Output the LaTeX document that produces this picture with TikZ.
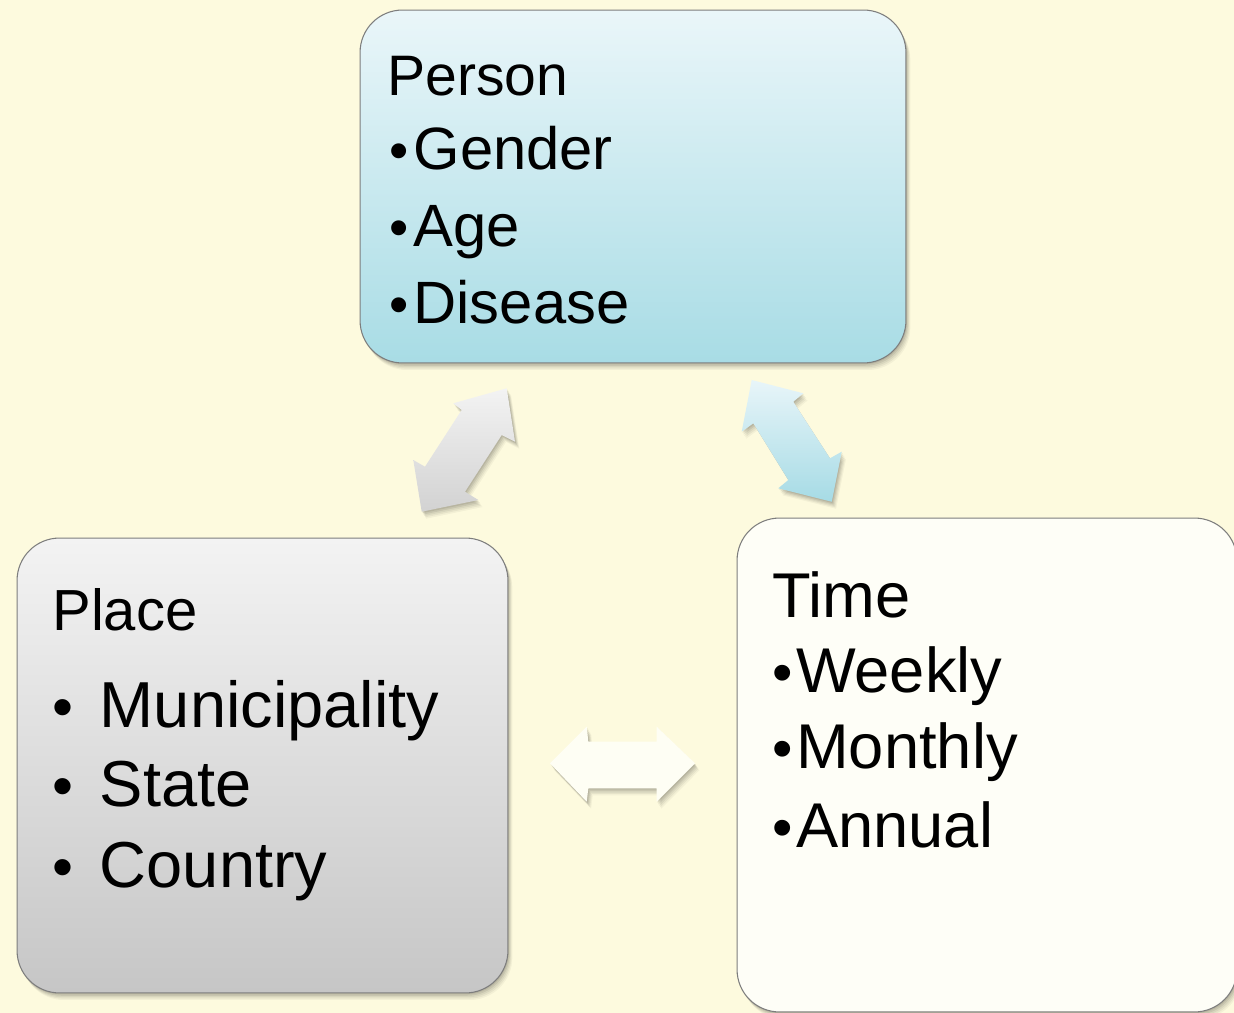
\documentclass[tikz,border=0pt]{standalone}
\usepackage{fontspec}
\setmainfont{Liberation Sans}
\usetikzlibrary{shadows}
\definecolor{bgcream}{RGB}{253,250,222}
\definecolor{cardline}{RGB}{125,125,125}
\definecolor{personTop}{RGB}{234,246,249}
\definecolor{personBot}{RGB}{168,220,229}
\definecolor{placeTop}{RGB}{243,243,243}
\definecolor{placeBot}{RGB}{198,198,198}
\definecolor{timeFill}{RGB}{254,254,247}
\definecolor{grayTop}{RGB}{243,243,243}
\definecolor{grayBot}{RGB}{210,210,210}
\definecolor{blueTop}{RGB}{232,245,249}
\definecolor{blueBot}{RGB}{166,219,229}
\definecolor{creamArrow}{RGB}{254,254,244}
% a slightly smaller list bullet
\newcommand\smallbullet{\scalebox{0.92}{•}}
\begin{document}
\begin{tikzpicture}[x=0.02cm,y=-0.02cm,
  softshadow/.style={
    drop shadow={shadow xshift=0.5pt,shadow yshift=-0.8pt,opacity=0.08,fill=black},
    drop shadow={shadow xshift=1.0pt,shadow yshift=-1.6pt,opacity=0.07,fill=black},
    drop shadow={shadow xshift=1.5pt,shadow yshift=-2.4pt,opacity=0.06,fill=black},
    drop shadow={shadow xshift=2.0pt,shadow yshift=-3.2pt,opacity=0.05,fill=black},
    drop shadow={shadow xshift=2.5pt,shadow yshift=-4.0pt,opacity=0.04,fill=black}},
  card/.style={draw=cardline, line width=0.6pt, rounded corners=0.85cm,
    inner sep=0pt, softshadow},
  lbl/.style={anchor=base west, inner sep=0pt, text=black},
]
\useasboundingbox (0,0) rectangle (1234,1013);
\clip (0,0) rectangle (1234,1013);
\fill[bgcream] (0,0) rectangle (1234,1013);

% three cards
\node[card, top color=personTop, bottom color=personBot,
      minimum width=10.92cm, minimum height=7.06cm] (person) at (633,186.5) {};
\node[card, top color=placeTop, bottom color=placeBot,
      minimum width=9.82cm, minimum height=9.1cm] (place) at (262.5,765.5) {};
\node[card, fill=timeFill,
      minimum width=10cm, minimum height=9.88cm] (time) at (987,765) {};

% block arrows between the cards
\shade[top color=grayTop, bottom color=grayBot, softshadow]
  (453.3,403.3) -- (506.7,388.3) -- (515,441.7) -- (501.7,435) -- (465,491.7)
  -- (478.3,500) -- (421.7,511.7) -- (413.3,460) -- (425,466.7) -- (461.7,410) -- cycle;
\shade[top color=blueTop, bottom color=blueBot, softshadow]
  (751.7,380) -- (803.3,393.3) -- (793.3,401.7) -- (830,458.3) -- (841.7,451.7)
  -- (831.7,501.7) -- (778.3,488.3) -- (788.3,480) -- (753.3,423.3) -- (741.7,431.7) -- cycle;
\fill[creamArrow, softshadow]
  (550,763.3) -- (586.7,726.7) -- (588.3,741.7) -- (656.7,741.7) -- (656.7,726.7)
  -- (695,763.3) -- (656.7,801.7) -- (656.7,788.3) -- (588.3,788.3) -- (586.7,801.7) -- cycle;

% Person
\node[lbl, font=\fontsize{32.5pt}{38pt}\selectfont] (pT) at (387,96) {Person};
\node[lbl, font=\fontsize{34pt}{40pt}\selectfont] (p1) at (389,170) {\smallbullet\hspace{0.1cm}Gender};
\node[lbl, font=\fontsize{34pt}{40pt}\selectfont] (p2) at (389,247) {\smallbullet\hspace{0.1cm}Age};
\node[lbl, font=\fontsize{34pt}{40pt}\selectfont] (p3) at (389,324) {\smallbullet\hspace{0.1cm}Disease};

% Place
\node[lbl, font=\fontsize{33pt}{38pt}\selectfont] (lT) at (52,630) {Place};
\node[lbl, font=\fontsize{37pt}{42pt}\selectfont] (l1) at (52,727) {\smallbullet\hspace{0.53cm}Municipality};
\node[lbl, font=\fontsize{37pt}{42pt}\selectfont] (l2) at (52,806) {\smallbullet\hspace{0.53cm}State};
\node[lbl, font=\fontsize{37pt}{42pt}\selectfont] (l3) at (52,887) {\smallbullet\hspace{0.53cm}Country};

% Time
\node[lbl, font=\fontsize{36pt}{42pt}\selectfont] (tT) at (772,617) {Time};
\node[lbl, font=\fontsize{36pt}{42pt}\selectfont] (t1) at (772,692) {\smallbullet\hspace{0.07cm}Weekly};
\node[lbl, font=\fontsize{36pt}{42pt}\selectfont] (t2) at (772,768) {\smallbullet\hspace{0.07cm}Monthly};
\node[lbl, font=\fontsize{36pt}{42pt}\selectfont] (t3) at (772,847) {\smallbullet\hspace{0.07cm}Annual};
\end{tikzpicture}
\end{document}
